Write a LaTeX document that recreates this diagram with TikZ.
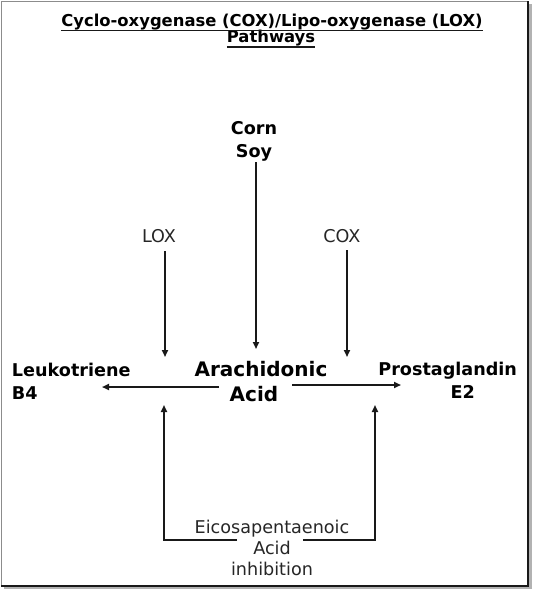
\documentclass[tikz,border=0pt]{standalone}
\usepackage{fontspec}
\setmainfont{DejaVu Sans}
\usetikzlibrary{arrows.meta}
\begin{document}
\begin{tikzpicture}[x=1pt,y=-1pt,
  lbl/.style={inner sep=0pt, outer sep=0pt, anchor=base},
  ttlfont/.style={lbl, font=\bfseries\fontsize{16.4}{20}\selectfont},
  boldlbl/.style={lbl, font=\bfseries\fontsize{17.6}{23.5}\selectfont},
  biglbl/.style={lbl, font=\bfseries\fontsize{20}{25}\selectfont},
  plainlbl/.style={lbl, font=\fontsize{17.6}{21}\selectfont, text=black!85},
  conn/.style={line width=1.7pt, draw=black!90},
  arr/.style={conn, -{Triangle[length=7pt,width=6pt]}},
  ulin/.style={line width=1.5pt, draw=black!90}]
\useasboundingbox (0,0) rectangle (533,590);
% frame with shadow
\fill[black!30] (4,4) rectangle (531.5,589);
\fill[white] (1,1) rectangle (528,586);
\draw[black!45, line width=0.8pt] (1,586) -- (1,1) -- (528,1);
\draw[black!90, line width=1.8pt] (528,1) -- (528,586) -- (1,586);

% title
\node[ttlfont] (t1) at (272,26) {Cyclo-oxygenase (COX)/Lipo-oxygenase (LOX)};
\node[ttlfont] (t2) at (271,42.5) {Pathways};
\draw[ulin] ([yshift=-4.5pt]t1.base west) -- ([yshift=-4.5pt]t1.base east);
\draw[ulin] ([yshift=-4.5pt]t2.base west) -- ([yshift=-4.5pt]t2.base east);

% labels
\node[boldlbl] (src) at (254,134) {\begin{tabular}[t]{@{}c@{}}Corn\\Soy\end{tabular}};
\node[biglbl] (aa) at (261,376) {\begin{tabular}[t]{@{}c@{}}Arachidonic\\Acid\hspace*{14pt}\end{tabular}};
\node[boldlbl, anchor=base west] (lt) at (12,376) {\begin{tabular}[t]{@{}l@{}}Leukotriene\\B4\end{tabular}};
\node[boldlbl, anchor=base east] (pg) at (517,375) {\begin{tabular}[t]{@{}c@{}}Prostaglandin\\\hspace*{30pt}E2\end{tabular}};
\node[plainlbl] (lox) at (159,242) {LOX};
\node[plainlbl] (cox) at (342,242) {COX};
\node[plainlbl] (epa) at (272,533) {\begin{tabular}[t]{@{}c@{}}Eicosapentaenoic\\Acid\\inhibition\end{tabular}};

% arrow end points
\coordinate (srcdown) at (256,162);
\coordinate (aatop) at (256,349);
\coordinate (loxtip) at (165,357);
\coordinate (coxtip) at (347,357);
\coordinate (aaleft) at (219,387);
\coordinate (lttip) at (102,387);
\coordinate (aaright) at (292,385);
\coordinate (pgtip) at (401,385);
\coordinate (epaL) at (237,540);
\coordinate (cornerL) at (164,540);
\coordinate (upL) at (164,405);
\coordinate (epaR) at (303,540);
\coordinate (cornerR) at (375,540);
\coordinate (upR) at (375,405);

% connectors
\draw[arr] (srcdown) -- (aatop);
\draw[arr, shorten <=9pt] (lox.south -| loxtip) -- (loxtip);
\draw[arr, shorten <=8pt] (cox.south -| coxtip) -- (coxtip);
\draw[arr] (aaleft) -- (lttip);
\draw[arr] (aaright) -- (pgtip);
\draw[arr] (epaL) -- (cornerL) -- (upL);
\draw[arr] (epaR) -- (cornerR) -- (upR);
\end{tikzpicture}
\end{document}
